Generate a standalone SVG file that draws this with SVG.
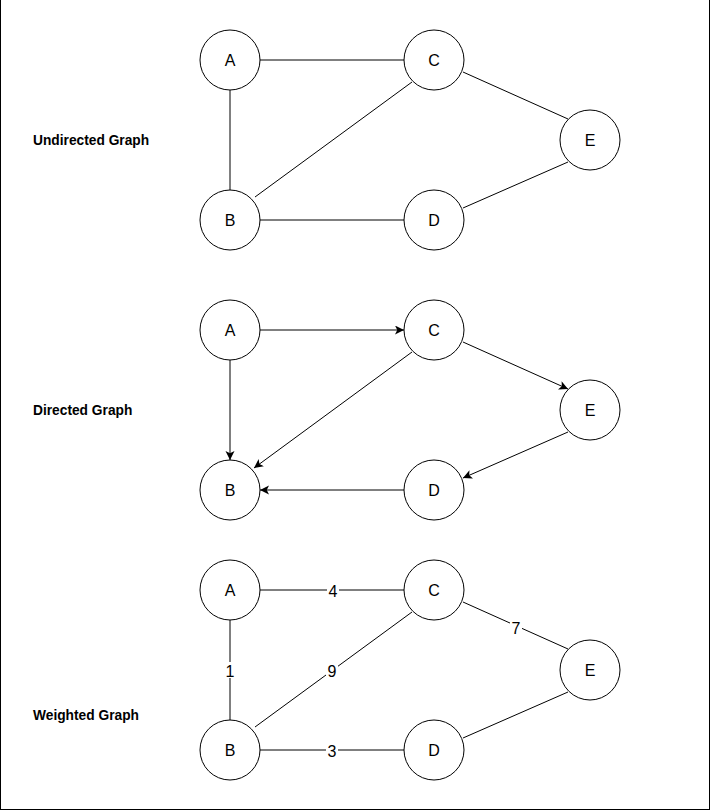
<svg xmlns="http://www.w3.org/2000/svg" width="711" height="811" viewBox="0 0 711 811">
<style>
.node circle{fill:#fff;stroke:#000;stroke-width:1}
.node text{font-family:"Liberation Sans",Arial,sans-serif;font-size:16px;fill:#000;text-anchor:middle}
.edge{stroke:#000;stroke-width:1;fill:none}
.arrow{marker-end:url(#arr)}
.title{font-family:"Liberation Sans",Arial,sans-serif;font-size:13.75px;font-weight:bold;fill:#000}
.wl rect{fill:#fff}
.wl text{font-family:"Liberation Sans",Arial,sans-serif;font-size:16px;fill:#000;text-anchor:middle}
</style>
<defs>
<marker id="arr" markerUnits="userSpaceOnUse" markerWidth="10" markerHeight="10" refX="9" refY="4.5" orient="auto">
<path d="M0,0 L9,4.5 L0,9 L2.25,4.5 Z" fill="#000"/>
</marker>
</defs>
<rect x="0" y="0" width="711" height="811" fill="#fff"/>
<rect x="0.5" y="-1" width="709" height="810.5" fill="none" stroke="#000" stroke-width="1"/>

<text class="title" x="33" y="145">Undirected Graph</text>
<text class="title" x="33" y="415">Directed Graph</text>
<text class="title" x="33" y="720">Weighted Graph</text>

<g id="connectors">
<line class="edge" x1="260" y1="60" x2="404" y2="60"/>
<line class="edge" x1="230" y1="90" x2="230" y2="190"/>
<line class="edge" x1="255" y1="197" x2="412" y2="82"/>
<line class="edge" x1="463" y1="72" x2="568" y2="119"/>
<line class="edge" x1="568" y1="162" x2="463" y2="208"/>
<line class="edge" x1="260" y1="220" x2="404" y2="220"/>
<line class="edge arrow" x1="260" y1="330" x2="404" y2="330"/>
<line class="edge arrow" x1="230" y1="360" x2="230" y2="460"/>
<line class="edge arrow" x1="412" y1="352" x2="254" y2="468"/>
<line class="edge arrow" x1="463" y1="342" x2="568" y2="389"/>
<line class="edge arrow" x1="568" y1="432" x2="463" y2="478"/>
<line class="edge arrow" x1="404" y1="490" x2="260" y2="490"/>
<line class="edge" x1="260" y1="590" x2="404" y2="590"/>
<line class="edge" x1="230" y1="620" x2="230" y2="720"/>
<line class="edge" x1="255" y1="727" x2="412" y2="612"/>
<line class="edge" x1="463" y1="602" x2="568" y2="649"/>
<line class="edge" x1="568" y1="692" x2="463" y2="738"/>
<line class="edge" x1="260" y1="750" x2="404" y2="750"/>
<g class="wl">
<rect x="327" y="582" width="12" height="16"/><text x="333" y="596.5">4</text>
<rect x="224" y="662" width="12" height="16"/><text x="230" y="676.5">1</text>
<rect x="326" y="662" width="12" height="16"/><text x="332" y="676.5">9</text>
<rect x="510" y="619" width="12" height="16"/><text x="516" y="633.5">7</text>
<rect x="326" y="742" width="12" height="16"/><text x="332" y="756.5">3</text>
</g>
</g>

<g id="u-A" class="node"><circle cx="230" cy="60" r="30"/><text x="230" y="65.5">A</text></g>
<g id="u-C" class="node"><circle cx="434" cy="60" r="30"/><text x="434" y="65.5">C</text></g>
<g id="u-B" class="node"><circle cx="230" cy="220" r="30"/><text x="230" y="225.5">B</text></g>
<g id="u-D" class="node"><circle cx="434" cy="220" r="30"/><text x="434" y="225.5">D</text></g>
<g id="u-E" class="node"><circle cx="590" cy="140" r="30"/><text x="590" y="145.5">E</text></g>

<g id="d-A" class="node"><circle cx="230" cy="330" r="30"/><text x="230" y="335.5">A</text></g>
<g id="d-C" class="node"><circle cx="434" cy="330" r="30"/><text x="434" y="335.5">C</text></g>
<g id="d-B" class="node"><circle cx="230" cy="490" r="30"/><text x="230" y="495.5">B</text></g>
<g id="d-D" class="node"><circle cx="434" cy="490" r="30"/><text x="434" y="495.5">D</text></g>
<g id="d-E" class="node"><circle cx="590" cy="410" r="30"/><text x="590" y="415.5">E</text></g>

<g id="w-A" class="node"><circle cx="230" cy="590" r="30"/><text x="230" y="595.5">A</text></g>
<g id="w-C" class="node"><circle cx="434" cy="590" r="30"/><text x="434" y="595.5">C</text></g>
<g id="w-B" class="node"><circle cx="230" cy="750" r="30"/><text x="230" y="755.5">B</text></g>
<g id="w-D" class="node"><circle cx="434" cy="750" r="30"/><text x="434" y="755.5">D</text></g>
<g id="w-E" class="node"><circle cx="590" cy="670" r="30"/><text x="590" y="675.5">E</text></g>
</svg>
